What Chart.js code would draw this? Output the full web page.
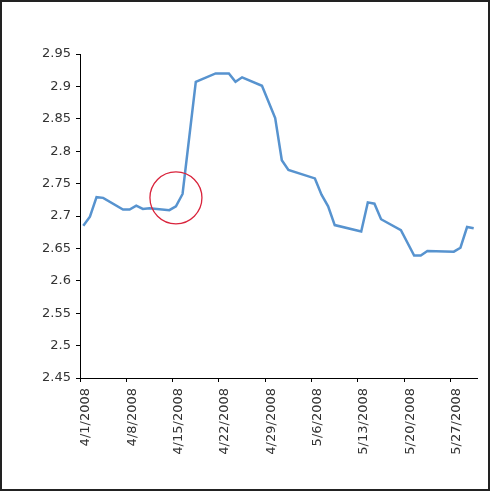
<!DOCTYPE html>
<html><head><meta charset="utf-8">
<script src="https://cdn.jsdelivr.net/npm/chart.js@4.4.1/dist/chart.umd.min.js"></script>
<style>
html,body{margin:0;padding:0;background:#fff;}
#wrap{position:relative;width:490px;height:491px;box-sizing:border-box;border:2px solid #222;background:#fff;}
canvas{display:block;}
</style></head><body>
<div id="wrap"><canvas id="c" width="486" height="487"></canvas></div>
<script>
// ---- data ----
const dates = ['2008-04-01','2008-04-02','2008-04-03','2008-04-04','2008-04-07','2008-04-08','2008-04-09','2008-04-10','2008-04-11',
  '2008-04-14','2008-04-15','2008-04-16','2008-04-18','2008-04-21','2008-04-22','2008-04-23','2008-04-24','2008-04-25',
  '2008-04-28','2008-04-30','2008-05-01','2008-05-02','2008-05-06','2008-05-07','2008-05-08','2008-05-09',
  '2008-05-13','2008-05-14','2008-05-15','2008-05-16','2008-05-19','2008-05-21','2008-05-22','2008-05-23',
  '2008-05-27','2008-05-28','2008-05-29','2008-05-30'];
const prices = [2.685,2.699,2.729,2.728,2.710,2.710,2.716,2.711,2.712,
  2.709,2.715,2.734,2.907,2.920,2.920,2.920,2.907,2.914,
  2.901,2.851,2.786,2.771,2.758,2.733,2.715,2.686,
  2.676,2.721,2.719,2.695,2.678,2.639,2.639,2.646,
  2.645,2.651,2.683,2.681];
const xTickDates = ['2008-04-01','2008-04-08','2008-04-15','2008-04-22','2008-04-29','2008-05-06','2008-05-13','2008-05-20','2008-05-27'];
const yTicks = [2.45,2.5,2.55,2.6,2.65,2.7,2.75,2.8,2.85,2.9,2.95];
const yTickLabels = ['2.45','2.5','2.55','2.6','2.65','2.7','2.75','2.8','2.85','2.9','2.95'];
const axisStart = '2008-04-01';
const axisEnd = '2008-05-31';
const highlightDate = '2008-04-15';
const highlightValue = 2.728;

// ---- helpers ----
const DAY = 86400000;
function toUTC(s){ const p=s.split('-').map(Number); return Date.UTC(p[0],p[1]-1,p[2]); }
function dayIndex(s){ return (toUTC(s) - toUTC(axisStart))/DAY; }
function fmt(d){ const t=new Date(toUTC(axisStart)+Math.round(d)*DAY); return (t.getUTCMonth()+1)+'/'+t.getUTCDate()+'/'+t.getUTCFullYear(); }
const xTickDays = xTickDates.map(dayIndex);
const linePts = dates.map((d,i)=>({x:dayIndex(d)+0.5, y:prices[i]}));
const circlePts = [{x:dayIndex(highlightDate)+0.5, y:highlightValue}];
const font = {family:'"DejaVu Sans", Verdana, sans-serif', size:13};

new Chart(document.getElementById('c'), {
  type:'line',
  data:{datasets:[
    {data:circlePts, showLine:false, pointRadius:26, pointHoverRadius:26, pointStyle:'circle',
     pointBackgroundColor:'rgba(0,0,0,0)', pointBorderColor:'#d9243c', pointBorderWidth:1.3, order:0},
    {data:linePts, borderColor:'#5793cf', borderWidth:2.5, pointRadius:0, tension:0, fill:false, order:1}
  ]},
  options:{
    responsive:false, animation:false, devicePixelRatio:1,
    layout:{autoPadding:false, padding:{top:52, right:11, left:0, bottom:0}},
    plugins:{legend:{display:false}, tooltip:{enabled:false}},
    scales:{
      x:{type:'linear', min:0, max:dayIndex(axisEnd),
        afterBuildTicks:(s)=>{ s.ticks = xTickDays.map(v=>({value:v})); },
        afterFit:(s)=>{ s.height = 111; s.paddingLeft = 0; s.paddingRight = 0; },
        ticks:{autoSkip:false, maxRotation:90, minRotation:90, labelOffset:6, padding:6, color:'#333', font:font,
          callback:(v)=>fmt(v)},
        grid:{drawOnChartArea:false, drawTicks:true, tickLength:4, tickColor:'#000', color:'#000'},
        border:{color:'#000', width:1}
      },
      y:{min:2.45, max:2.95,
        afterBuildTicks:(s)=>{ s.ticks = yTicks.map(v=>({value:v})); },
        afterFit:(s)=>{ s.width = 78; s.paddingTop = 0; s.paddingBottom = 0; },
        ticks:{padding:5, color:'#333', font:font,
          callback:(v)=>{ const i=yTicks.findIndex(t=>Math.abs(t-v)<1e-6); return i>=0?yTickLabels[i]:''; }},
        grid:{drawOnChartArea:false, drawTicks:true, tickLength:4, tickColor:'#000', color:'#000'},
        border:{color:'#000', width:1}
      }
    }
  }
});
</script>
</body></html>
